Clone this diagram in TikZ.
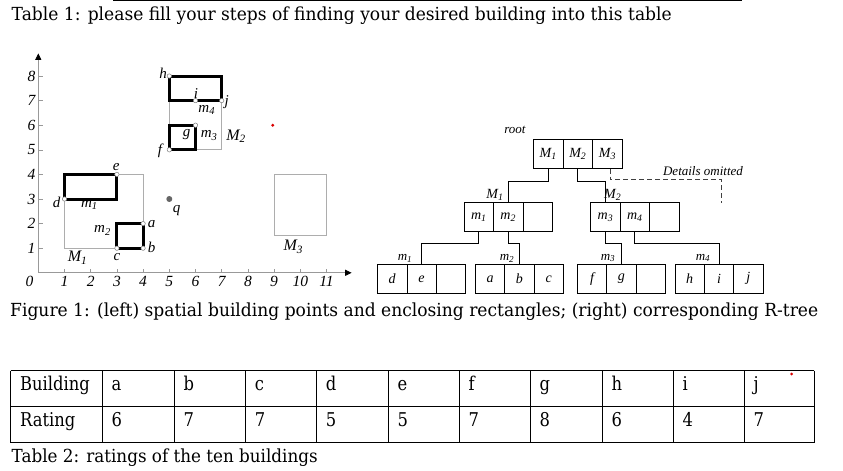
\documentclass[tikz,border=0pt]{standalone}
\usepackage{fontspec}
\usepackage{graphicx}
\setmainfont{DejaVu Serif}
\newfontfamily\tms{Liberation Serif}
\usetikzlibrary{arrows.meta,calc}
\newcommand\sub[2]{#1\textsubscript{#2}}
\newcommand\sq[1]{\scalebox{0.86}[1]{#1}}
\begin{document}
\begin{tikzpicture}[x=1pt,y=-1pt,
  cell/.style={draw, line width=0.6pt, minimum width=29.4pt, minimum height=29pt, inner sep=0pt,
    font=\tms\itshape\fontsize{14}{14}\selectfont},
  conn/.style={line width=0.7pt},
  lbl/.style={inner sep=0pt, font=\tms\itshape\fontsize{15}{15}\selectfont},
  ticklbl/.style={inner sep=0pt, font=\tms\itshape\fontsize{15.5}{15.5}\selectfont},
  tlbl/.style={inner sep=0pt, font=\tms\itshape\fontsize{13}{13}\selectfont},
  captxt/.style={inner sep=0pt, anchor=base west, font=\fontsize{18}{18}\selectfont},
  tcell/.style={inner sep=0pt, anchor=base west, font=\fontsize{19}{19}\selectfont},
  bpt/.style={circle, draw=gray, fill=white, line width=0.5pt, minimum size=4.4pt, inner sep=0pt},
  encl/.style={draw=black!32, line width=0.9pt},
  mbr/.style={draw=black, line width=3pt},
  ax/.style={draw=black!40, line width=0.8pt}
]
\useasboundingbox (0,0) rectangle (843,471);

% ---------- Table 1 title ----------
\coordinate (tl1) at (113,0.8);
\coordinate (tl2) at (741.7,0.8);
\draw[line width=1.3pt] (tl1) -- (tl2);
\node[captxt] (title) at (11.5,20) {\resizebox{660pt}{\height}{Table 1: please fill your steps of finding your desired building into this table}};

% ---------- spatial chart ----------
\begin{scope}[shift={(38.3pt,-272.8pt)}, x=26.2pt, y=24.6pt]
  \coordinate (O) at (0,0);
  \coordinate (xe) at (11.96,0);
  \coordinate (ye) at (0,8.92);
  \draw[ax, -{Triangle[length=6.5pt,width=6pt,color=black]}] (O) -- (xe);
  \draw[ax, -{Triangle[length=6.5pt,width=6pt,color=black]}] (O) -- (ye);
  \foreach \i in {1,...,11} {
    \draw[ax, line width=0.6pt] (\i,0) -- (\i,0.14);
    \node[ticklbl] (xt\i) at (\i,-0.36) {\i};
  }
  \foreach \j in {1,...,8} {
    \draw[ax, line width=0.6pt] (0,\j) -- (0.17,\j);
    \node[ticklbl, anchor=east] (yt\j) at (-0.1,\j) {\j};
  }
  \node[ticklbl] (xt0) at (-0.34,-0.36) {0};

  % enclosing rectangles
  \draw[encl] (1,1) rectangle (4,4);
  \draw[encl] (5,5) rectangle (7,8);
  \draw[encl] (9,1.5) rectangle (11,4);
  \draw[mbr] (1,3) rectangle (3,4);
  \draw[mbr] (3,1) rectangle (4,2);
  \draw[mbr] (5,5) rectangle (6,6);
  \draw[mbr] (5,7) rectangle (7,8);

  % building points
  \node[bpt] (pa) at (4,2) {};
  \node[bpt] (pb) at (4,1) {};
  \node[bpt] (pc) at (3,1) {};
  \node[bpt] (pd) at (1,3) {};
  \node[bpt] (pe) at (3,4) {};
  \node[bpt] (pf) at (5,5) {};
  \node[bpt] (pg) at (6,6) {};
  \node[bpt] (ph) at (5,8) {};
  \node[bpt] (pi) at (6,7) {};
  \node[bpt] (pj) at (7,7) {};
  \node[circle, fill=black!60, minimum size=6pt, inner sep=0pt] (q) at (5,3) {};
  \node[circle, fill=red!85!black, minimum size=3.2pt, inner sep=0pt] (red1) at (8.95,6) {};

  % labels
  \node[lbl] (lh) at (4.76,8.1) {h};
  \node[lbl] (li) at (6.02,7.3) {i};
  \node[lbl] (lj) at (7.19,6.95) {j};
  \node[lbl] (lm4) at (6.43,6.62) {\sub{m}{4}};
  \node[lbl] (lg) at (5.66,5.62) {g};
  \node[lbl] (lm3) at (6.52,5.58) {\sub{m}{3}};
  \node[lbl, font=\tms\itshape\fontsize{16}{16}\selectfont] (lM2) at (7.55,5.55) {\sub{M}{2}};
  \node[lbl] (lf) at (4.64,4.95) {f};
  \node[lbl] (le) at (2.97,4.3) {e};
  \node[lbl] (ld) at (0.7,2.87) {d};
  \node[lbl] (lm1) at (1.95,2.75) {\sub{m}{1}};
  \node[lbl] (lq) at (5.28,2.55) {q};
  \node[lbl] (lm2) at (2.45,1.72) {\sub{m}{2}};
  \node[lbl] (la) at (4.33,1.97) {a};
  \node[lbl] (lb) at (4.33,1.02) {b};
  \node[lbl] (lc) at (3.0,0.63) {c};
  \node[lbl, font=\tms\itshape\fontsize{16}{16}\selectfont] (lM1) at (1.5,0.6) {\sub{M}{1}};
  \node[lbl, font=\tms\itshape\fontsize{16}{16}\selectfont] (lM3) at (9.73,1.05) {\sub{M}{3}};
\end{scope}

% ---------- R-tree ----------
\node[tlbl] (rootlbl) at (515,130) {root};
\node[cell] (r1) at (548.2,153.8) {\sub{M}{1}};
\node[cell] (r2) at (577.8,153.8) {\sub{M}{2}};
\node[cell] (r3) at (607.4,153.8) {\sub{M}{3}};

\node[cell] (a1) at (478.8,217.2) {\sub{m}{1}};
\node[cell] (a2) at (508.2,217.2) {\sub{m}{2}};
\node[cell] (a3) at (537.6,217.2) {};
\node[cell] (b1) at (605.4,217.2) {\sub{m}{3}};
\node[cell] (b2) at (634.8,217.2) {\sub{m}{4}};
\node[cell] (b3) at (664.2,217.2) {};
\node[tlbl, font=\tms\itshape\fontsize{14}{14}\selectfont] (aL) at (495,195) {\sub{M}{1}};
\node[tlbl, font=\tms\itshape\fontsize{14}{14}\selectfont, anchor=west] (bL) at (604,195) {\sub{M}{2}};

\node[cell] (l1a) at (392.1,278.8) {d};
\node[cell] (l1b) at (421.5,278.8) {e};
\node[cell] (l1c) at (450.9,278.8) {};
\node[cell] (l2a) at (490.0,278.8) {a};
\node[cell] (l2b) at (519.4,278.8) {b};
\node[cell] (l2c) at (548.8,278.8) {c};
\node[cell] (l3a) at (592.0,278.8) {f};
\node[cell] (l3b) at (621.4,278.8) {g};
\node[cell] (l3c) at (650.8,278.8) {};
\node[cell] (l4a) at (689.6,278.8) {h};
\node[cell] (l4b) at (719.0,278.8) {i};
\node[cell] (l4c) at (748.4,278.8) {j};
\node[tlbl] (l1L) at (405,258) {\sub{m}{1}};
\node[tlbl] (l2L) at (507,258) {\sub{m}{2}};
\node[tlbl] (l3L) at (608,258) {\sub{m}{3}};
\node[tlbl] (l4L) at (703,258) {\sub{m}{4}};

\draw[conn] (r1.south) -- ++(0,12.4) -| (a2.north);
\draw[conn] (r2.south) -- ++(0,12.4) -| (b1.north);
\coordinate (dend) at (721.7,203.3);
\draw[conn, dash pattern=on 5pt off 3pt, draw=black!75] ([xshift=3pt]r3.south) -- ++(0,11.2) -| (dend);
\node[tlbl] (det) at (703,171) {Details omitted};

\draw[conn] (a1.south) -- ++(0,11.6) -| (l1b.north);
\draw[conn] (a2.south) -- ++(0,11.6) -| (l2b.north);
\draw[conn] (b1.south) -- ++(0,11.6) -| (l3b.north);
\draw[conn] (b2.south) -- ++(0,11.6) -| (l4b.north);

% ---------- Figure caption ----------
\node[captxt] (figcap) at (10,316) {\resizebox{808pt}{\height}{Figure 1: (left) spatial building points and enclosing rectangles; (right) corresponding R-tree}};

% ---------- Table 2 ----------
\foreach \xx in {10.7,102.3,174.3,245.7,316.7,388.3,459.3,530.3,602.3,673.3,744.3,814.3}
  \draw[line width=1pt] (\xx,370.7) -- (\xx,442.7);
\foreach \yy in {370.7,406,442.7}
  \draw[line width=1pt] (10.7,\yy) -- (814.3,\yy);
\node[tcell] (hB) at (20,390.5) {\sq{Building}};
\node[tcell] (hR) at (20,426.5) {\sq{Rating}};
\foreach \c/\xx/\bl/\rt in {a/102.3/a/6, b/174.3/b/7, c/245.7/c/7, d/316.7/d/5, e/388.3/e/5, f/459.3/f/7, g/530.3/g/8, h/602.3/h/6, i/673.3/i/4, j/744.3/j/7} {
  \node[tcell] (b\c) at (\xx+9,390.5) {\sq{\bl}};
  \node[tcell] (r\c) at (\xx+9,426.5) {\sq{\rt}};
}
\node[circle, fill=red!85!black, minimum size=3pt, inner sep=0pt] (red2) at (791.7,374) {};
\node[captxt] (t2cap) at (11.5,462) {\resizebox{306pt}{\height}{Table 2: ratings of the ten buildings}};
\end{tikzpicture}
\end{document}
